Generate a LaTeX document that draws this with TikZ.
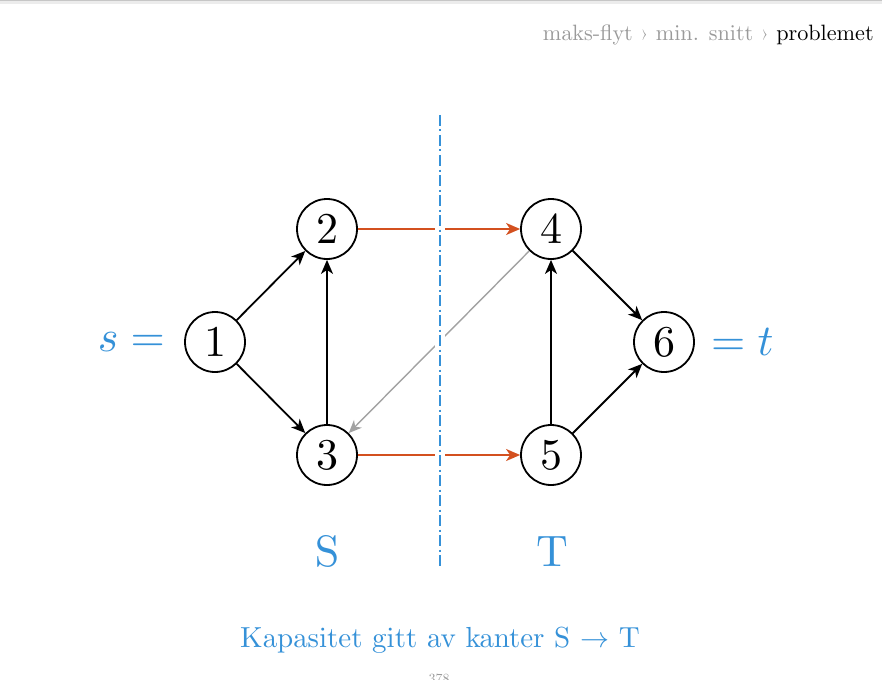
\documentclass[tikz,border=0pt]{standalone}
\usepackage{fontspec}
\DeclareFontShape{OML}{cmm}{m}{it}{<->cmmi10}{}
\DeclareFontShape{OMS}{cmsy}{m}{n}{<->cmsy10}{}
\DeclareFontShape{OT1}{cmr}{m}{n}{<->cmr10}{}
\newcommand\cmtext{\fontencoding{OT1}\fontfamily{cmr}\selectfont}
\newfontfamily\lmtu{Latin Modern Roman}
\usetikzlibrary{arrows.meta}
\definecolor{cutblue}{HTML}{3591D8}
\definecolor{cutorange}{HTML}{D3501F}
\definecolor{edgegray}{HTML}{A2A2A2}
\definecolor{crumbgray}{HTML}{9A9A9A}
\tikzset{
  vertex/.style={circle, draw=black, line width=1.8pt, minimum size=60pt, inner sep=0pt, font=\fontsize{44}{48}\cmtext},
  edge/.style={line width=1.8pt, -{Stealth[length=14pt, width=12pt, inset=4pt]}},
  cutedge/.style={edge, draw=cutorange},
  backedge/.style={line width=1.4pt, draw=edgegray, -{Stealth[length=13pt, width=11pt, inset=4pt]}},
  bluelabel/.style={text=cutblue, inner sep=0pt},
}
\begin{document}
\begin{tikzpicture}[x=1pt,y=-1pt]
\useasboundingbox (0,0) rectangle (882,679);
\clip (0,0) rectangle (882,679);
\fill[gray!45] (0,0) rectangle (882,1.5);
\fill[gray!15] (0,1.5) rectangle (882,4);
% breadcrumb
\node[anchor=base east, inner sep=0pt, font=\fontsize{22.2}{26}\cmtext] (crumb) at (874,41)
  {\textcolor{crumbgray}{maks-flyt {\lmtu ›} min. snitt {\lmtu ›}} problemet};
% vertices
\node[vertex] (v1) at (215,342) {1};
\node[vertex] (v2) at (327,229) {2};
\node[vertex] (v3) at (327,455) {3};
\node[vertex] (v4) at (551,229) {4};
\node[vertex] (v5) at (551,455) {5};
\node[vertex] (v6) at (664,342) {6};
% s and t labels
\node[bluelabel, anchor=east, font=\fontsize{44}{48}\cmtext] (slab) at ([xshift=-19pt]v1.west) {$s=$};
\node[bluelabel, anchor=west, font=\fontsize{44}{48}\cmtext] (tlab) at ([xshift=16pt]v6.east) {$=t$};
% edges
\draw[edge] (v1) -- (v2);
\draw[edge] (v1) -- (v3);
\draw[edge] (v3) -- (v2);
\draw[edge] (v5) -- (v4);
\draw[edge] (v4) -- (v6);
\draw[edge] (v5) -- (v6);
\draw[cutedge] (v2) -- (v4);
\draw[cutedge] (v3) -- (v5);
\draw[backedge] (v4) -- (v3);
% cut line
\coordinate (cuttop) at (440,115);
\coordinate (cutbot) at (440,567);
\draw[draw=white, line width=10pt] (cuttop) -- (cutbot);
\draw[cutblue, line width=1.8pt, dash pattern=on 11pt off 3.5pt on 2pt off 3.5pt] (cuttop) -- (cutbot);
% S and T
\node[bluelabel, anchor=base, font=\fontsize{44}{48}\cmtext] (Slab) at (327,566) {S};
\node[bluelabel, anchor=base, font=\fontsize{44}{48}\cmtext] (Tlab) at (552,566) {T};
% caption
\node[bluelabel, anchor=base, font=\fontsize{29}{34}\cmtext] (caption) at (440,647) {Kapasitet gitt av kanter S $\rightarrow$ T};
% page number
\node[anchor=north, inner sep=0pt, text=crumbgray, font=\fontsize{14}{16}\cmtext] (pagenum) at (439,674) {378};
\end{tikzpicture}
\end{document}
